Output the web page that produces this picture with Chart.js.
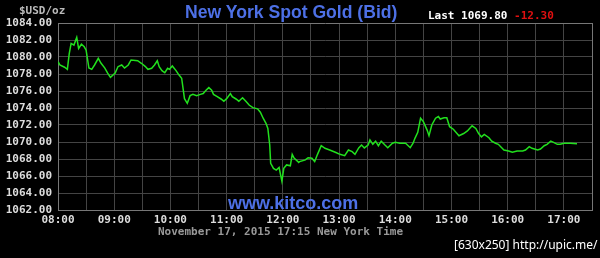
<!DOCTYPE html>
<html>
<head>
<meta charset="utf-8">
<script src="https://cdn.jsdelivr.net/npm/chart.js@4.4.0/dist/chart.umd.min.js"></script>
<style>
    html, body { margin: 0; padding: 0; background: #000; }
    .wrap { position: relative; width: 600px; height: 258px; overflow: hidden; }
    .txt { position: absolute; white-space: nowrap; line-height: 1; }
    .mono { font-family: "DejaVu Sans Mono", monospace; font-size: 11px; font-weight: bold; }
    .blue { font-family: "Liberation Sans", Arial, sans-serif; font-weight: bold; color: #4d70e6; }
</style>
</head>
<body>
<div class="wrap">
    <canvas id="goldChart" width="600" height="258"></canvas>
    <!-- 文字 -->
    <div class="txt mono" style="left:19px;top:5px;color:#bbb;">$USD/oz</div>
    <div class="txt blue" style="left:185px;top:4px;font-size:17.6px;">New York Spot Gold (Bid)</div>
    <div class="txt mono" style="left:428px;top:10px;color:#fff;">Last 1069.80 <span style="color:#e01010;">-12.30</span></div>
    <div class="txt blue" style="left:228px;top:194px;font-size:18px;">www.kitco.com</div>
    <div class="txt mono" style="left:158px;top:226px;color:#999;">November 17, 2015 17:15 New York Time</div>
    <div class="txt" style="left:454px;top:239px;color:#fff;font-family:'Noto Sans',sans-serif;font-size:12px;">[630x250] http://upic.me/</div>
</div>
<script>
    // 数据
    var times = ['08:00','08:02','08:07','08:10','08:12','08:14','08:17','08:20','08:22','08:25','08:28','08:30',
        '08:33','08:36','08:39','08:43','08:46','08:50','08:53','08:56','09:01','09:04','09:08','09:11','09:15',
        '09:18','09:25','09:29','09:33','09:36','09:40','09:43','09:46','09:48','09:51','09:54','09:57','09:59',
        '10:02','10:06','10:09','10:12','10:15','10:18','10:21','10:24','10:28','10:32','10:35','10:38','10:41',
        '10:44','10:46','10:50','10:54','10:57','11:00','11:04','11:06','11:10','11:13','11:17','11:21','11:24',
        '11:28','11:33','11:36','11:39','11:42','11:44','11:46','11:47','11:50','11:53','11:56','11:59','12:01',
        '12:04','12:08','12:10','12:12','12:17','12:18','12:24','12:27','12:31','12:34','12:37','12:41','12:45',
        '12:50','12:56','13:01','13:06','13:10','13:14','13:17','13:21','13:24','13:27','13:31','13:33','13:36',
        '13:39','13:42','13:45','13:49','13:52','13:57','14:00','14:05','14:11','14:16','14:19','14:21','14:24',
        '14:27','14:30','14:34','14:36','14:39','14:43','14:46','14:48','14:52','14:55','14:58','15:02','15:08',
        '15:13','15:17','15:22','15:26','15:29','15:32','15:35','15:40','15:43','15:47','15:50','15:56','16:01',
        '16:05','16:10','16:16','16:19','16:23','16:26','16:32','16:35','16:39','16:42','16:46','16:49','16:53',
        '16:56','17:00','17:07','17:14'];
    var bids = [1079.45,1079.06,1078.8,1078.55,1080.4,1081.6,1081.4,1082.3,1081.0,1081.5,1081.2,1080.8,
        1078.7,1078.55,1079.06,1079.85,1079.26,1078.7,1078.1,1077.6,1078.1,1078.86,1079.06,1078.7,1079.06,
        1079.65,1079.57,1079.26,1078.9,1078.55,1078.67,1079.06,1079.56,1078.86,1078.4,1078.15,1078.67,1078.55,
        1078.94,1078.4,1077.9,1077.5,1075.1,1074.55,1075.45,1075.6,1075.45,1075.6,1075.7,1076.1,1076.4,
        1076.1,1075.6,1075.33,1075.06,1074.8,1075.1,1075.7,1075.33,1075.06,1074.8,1075.2,1074.74,1074.35,
        1074.04,1073.9,1073.5,1072.8,1072.2,1071.6,1069.65,1067.5,1066.9,1066.7,1067.0,1065.4,1066.9,
        1067.3,1067.2,1068.55,1068.1,1067.6,1067.7,1067.9,1068.15,1068.1,1067.7,1068.55,1069.56,1069.26,
        1069.06,1068.8,1068.55,1068.4,1069.06,1068.86,1068.55,1069.3,1069.65,1069.3,1069.65,1070.24,1069.73,
        1070.1,1069.56,1070.1,1069.65,1069.33,1069.85,1069.96,1069.85,1069.85,1069.33,1069.85,1070.43,1071.14,
        1072.8,1072.4,1071.4,1070.74,1072.0,1072.8,1073.0,1072.7,1072.86,1072.86,1071.8,1071.5,1070.74,
        1071.0,1071.3,1071.9,1071.6,1071.0,1070.6,1070.9,1070.5,1070.1,1069.85,1069.73,1069.06,1068.94,
        1068.8,1068.94,1068.94,1069.06,1069.45,1069.26,1069.06,1069.18,1069.56,1069.73,1070.1,1069.96,1069.73,
        1069.73,1069.85,1069.85,1069.8];
    var hourLabels = ['08:00','09:00','10:00','11:00','12:00','13:00','14:00','15:00','16:00','17:00'];

    // 8:00起的分钟数
    function toMin(t) {
        var p = t.split(':');
        return (parseInt(p[0], 10) - 8) * 60 + parseInt(p[1], 10);
    }
    var points = times.map(function (t, i) { return { x: toMin(t), y: bids[i] }; });

    var monoFont = { family: 'DejaVu Sans Mono', size: 11, weight: 'bold' };
    var ctx = document.getElementById('goldChart').getContext('2d');
    var goldChart = new Chart(ctx, {
        type: 'line',
        data: {
            datasets: [{
                data: points,
                borderColor: '#22e01e',
                borderWidth: 1.5,
                pointRadius: 0,
                tension: 0
            }]
        },
        options: {
            responsive: false,
            animation: false,
            layout: { padding: { left: 0, top: 23, right: 8, bottom: 0 } },
            plugins: { legend: { display: false }, tooltip: { enabled: false } },
            scales: {
                x: {
                    type: 'linear',
                    min: 0,
                    max: 570,
                    afterFit: function (s) { s.height = 48; },
                    afterBuildTicks: function (s) {
                        s.ticks = [];
                        for (var m = 0; m <= 570; m += 30) s.ticks.push({ value: m });
                    },
                    ticks: {
                        autoSkip: false,
                        maxRotation: 0,
                        padding: 4,
                        color: '#ddd',
                        font: monoFont,
                        callback: function (v) { return v % 60 === 0 ? hourLabels[v / 60] : ''; }
                    },
                    grid: {
                        drawTicks: false,
                        color: function (c) { return c.tick && c.tick.value === 570 ? '#777' : '#444'; }
                    },
                    border: { color: '#777' }
                },
                y: {
                    min: 1062,
                    max: 1084,
                    afterFit: function (s) { s.width = 58; },
                    ticks: {
                        stepSize: 2,
                        padding: 6,
                        color: '#ddd',
                        font: monoFont,
                        callback: function (v) { return v.toFixed(2); }
                    },
                    grid: {
                        drawTicks: false,
                        color: function (c) { return c.tick && c.tick.value === 1084 ? '#777' : '#444'; }
                    },
                    border: { color: '#777' }
                }
            }
        }
    });
</script>
</body>
</html>
